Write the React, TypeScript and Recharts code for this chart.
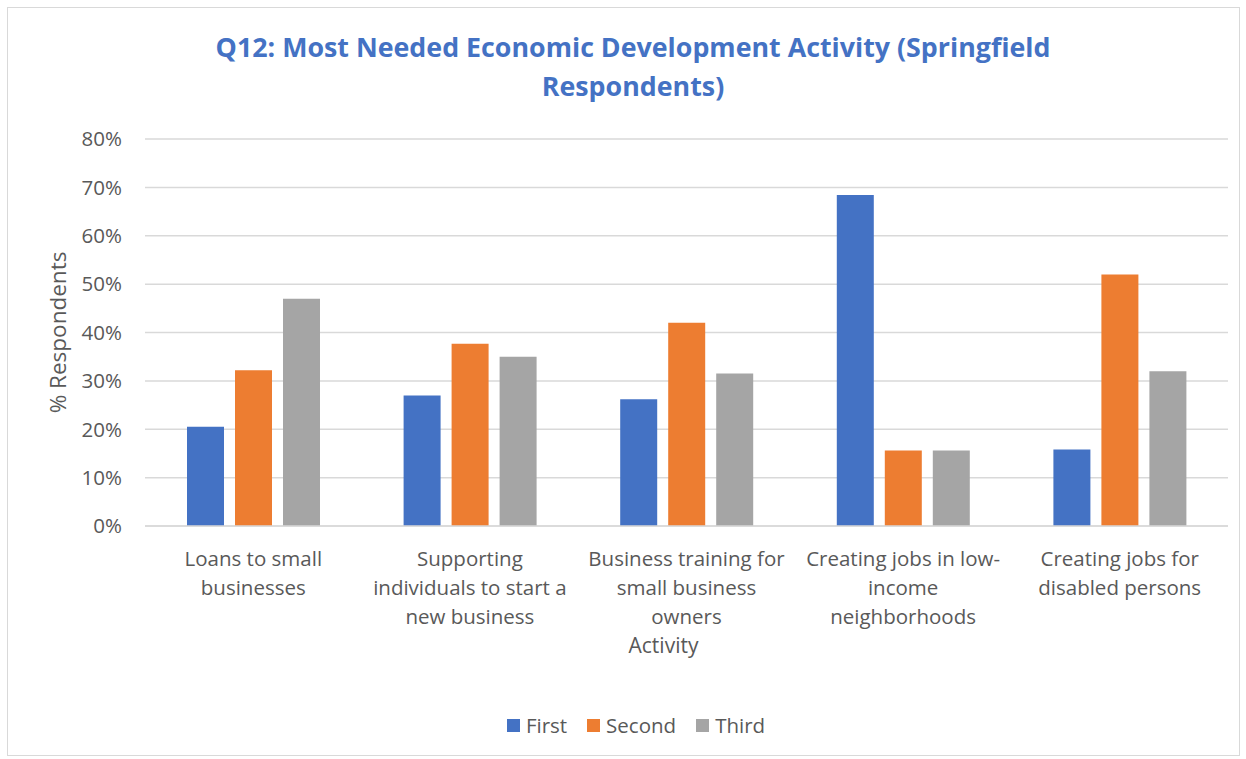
import { BarChart, Bar, XAxis, YAxis, CartesianGrid } from "recharts";

const titleLines = [
  "Q12: Most Needed Economic Development Activity (Springfield",
  "Respondents)",
];

const categories = [
  "Loans to small businesses",
  "Supporting individuals to start a new business",
  "Business training for small business owners",
  "Creating jobs in low-income neighborhoods",
  "Creating jobs for disabled persons",
];

// how the category names wrap under the axis
const categoryLines = [
  ["Loans to small", "businesses"],
  ["Supporting", "individuals to start a", "new business"],
  ["Business training for", "small business", "owners"],
  ["Creating jobs in low-", "income", "neighborhoods"],
  ["Creating jobs for", "disabled persons"],
];

const first = [20.5, 27.0, 26.2, 68.4, 15.8];
const second = [32.2, 37.7, 42.0, 15.6, 52.0];
const third = [47.0, 35.0, 31.5, 15.6, 32.0];

const yTicks = [0, 10, 20, 30, 40, 50, 60, 70, 80];

const seriesNames = ["First", "Second", "Third"];
const seriesColors = ["#4472C4", "#ED7D31", "#A5A5A5"];

const data = categories.map((name, i) => ({
  name,
  First: first[i],
  Second: second[i],
  Third: third[i],
}));

const FONT = "'Open Sans', sans-serif";
const GRAY = "#595959";

const CategoryTick = (props: any) => {
  const { x, y, payload } = props;
  const lines = categoryLines[payload.index] ?? [payload.value];
  return (
    <g transform={`translate(${x},${y})`}>
      {lines.map((line: string, i: number) => (
        <text
          key={i}
          x={0}
          y={32 + i * 29}
          textAnchor="middle"
          fill={GRAY}
          fontSize={20.5}
          fontFamily={FONT}
        >
          {line}
        </text>
      ))}
    </g>
  );
};

export default function App() {
  return (
    <div
      style={{
        position: "absolute",
        left: 0,
        top: 0,
        width: 1246,
        height: 759,
        background: "#fff",
        fontFamily: FONT,
      }}
    >
      <div
        style={{
          position: "absolute",
          left: 7,
          top: 7,
          width: 1233,
          height: 749,
          border: "1.5px solid #d9d9d9",
          boxSizing: "border-box",
        }}
      />
      <div
        style={{
          position: "absolute",
          left: 0,
          top: 27,
          width: 1266,
          textAlign: "center",
          color: "#4472C4",
          fontWeight: 700,
          fontSize: 26.8,
          lineHeight: "39px",
        }}
      >
        {titleLines.map((t) => (
          <div key={t}>{t}</div>
        ))}
      </div>

      <div style={{ position: "absolute", left: 0, top: 0 }}>
        <BarChart
          width={1246}
          height={759}
          data={data}
          margin={{ top: 139, right: 18, bottom: 0, left: 0 }}
          barSize={37}
          barGap={11}
        >
          <CartesianGrid
            vertical={false}
            stroke="#d9d9d9"
            strokeWidth={1.5}
          />
          <XAxis
            dataKey="name"
            height={233}
            axisLine={{ stroke: "#d9d9d9", strokeWidth: 1.5 }}
            tickLine={false}
            interval={0}
            tick={<CategoryTick />}
            label={(p: any) => {
              const vb = p.viewBox;
              return (
                <text
                  x={vb.x + vb.width / 2 - 23}
                  y={vb.y + 127}
                  textAnchor="middle"
                  fill={GRAY}
                  fontSize={21}
                  fontFamily={FONT}
                >
                  Activity
                </text>
              );
            }}
          />
          <YAxis
            width={145}
            domain={[0, 80]}
            ticks={yTicks}
            axisLine={false}
            tickLine={false}
            tickMargin={17}
            tickFormatter={(v: number) => `${v}%`}
            tick={{ fill: GRAY, fontSize: 20.5, fontFamily: FONT }}
            label={{
              value: "% Respondents",
              angle: -90,
              position: "insideLeft",
              offset: 58,
              style: {
                fill: GRAY,
                fontSize: 22.5,
                fontFamily: FONT,
                textAnchor: "middle",
              },
            }}
          />
          {seriesNames.map((s, i) => (
            <Bar
              key={s}
              dataKey={s}
              fill={seriesColors[i]}
              isAnimationActive={false}
            />
          ))}
        </BarChart>
      </div>

      <div
        style={{
          position: "absolute",
          left: 13,
          top: 711,
          width: 1246,
          display: "flex",
          justifyContent: "center",
          alignItems: "center",
          gap: 20,
          color: GRAY,
          fontSize: 20.5,
        }}
      >
        {seriesNames.map((s, i) => (
          <div key={s} style={{ display: "flex", alignItems: "center", gap: 6 }}>
            <span
              style={{
                display: "inline-block",
                width: 13,
                height: 13,
                background: seriesColors[i],
              }}
            />
            <span>{s}</span>
          </div>
        ))}
      </div>
    </div>
  );
}
